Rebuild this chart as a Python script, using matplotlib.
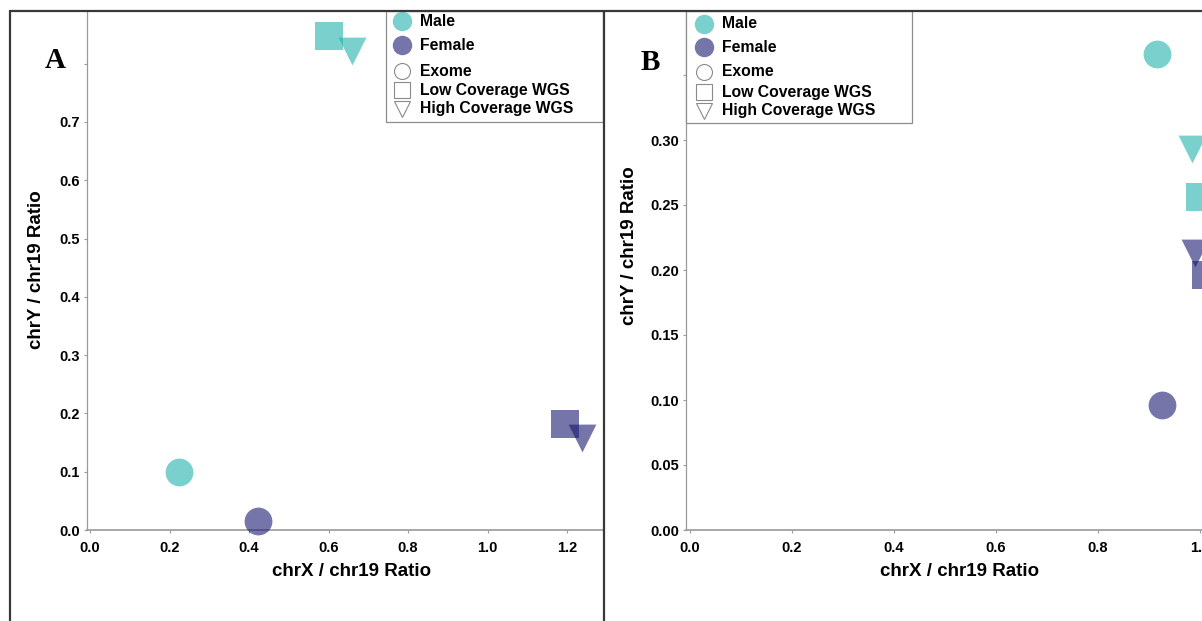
import matplotlib
matplotlib.use("Agg")
import matplotlib.pyplot as plt
from matplotlib.lines import Line2D
from matplotlib.patches import Rectangle

plt.rcParams['font.family'] = ['Liberation Sans', 'DejaVu Sans']
plt.rcParams['font.weight'] = 'bold'

# ---- data -------------------------------------------------------------
# Panel A
a_exome_x = [0.224, 0.423]          # male, female
a_exome_y = [0.099, 0.015]
a_lowwgs_x = [0.601, 1.195]
a_lowwgs_y = [0.848, 0.181]
a_highwgs_x = [0.660, 1.237]
a_highwgs_y = [0.822, 0.158]

# Panel B
b_exome_x = [0.915, 0.925]
b_exome_y = [0.366, 0.096]
b_lowwgs_x = [1.000, 1.012]
b_lowwgs_y = [0.256, 0.196]
b_highwgs_x = [0.984, 0.990]
b_highwgs_y = [0.293, 0.213]

sex_labels = ["Male", "Female"]
sex_colors = ["#20B2AA", "#191970"]
assay_labels = ["Exome", "Low Coverage WGS", "High Coverage WGS"]
assay_markers = ["o", "s", "v"]

a_xticks = [0.0, 0.2, 0.4, 0.6, 0.8, 1.0, 1.2]
a_yticks = [0.0, 0.1, 0.2, 0.3, 0.4, 0.5, 0.6, 0.7, 0.8]
a_yticklabels = ["0.0", "0.1", "0.2", "0.3", "0.4", "0.5", "0.6", "0.7", ""]
b_xticks = [0.0, 0.2, 0.4, 0.6, 0.8, 1.0]
b_yticks = [0.00, 0.05, 0.10, 0.15, 0.20, 0.25, 0.30, 0.35]
b_yticklabels = ["0.00", "0.05", "0.10", "0.15", "0.20", "0.25", "0.30", ""]

# ---- figure -----------------------------------------------------------
W, H = 1202, 621
fig = plt.figure(figsize=(W / 100, H / 100), dpi=100)
fig.patch.set_facecolor("white")


def fx(px):
    return px / W


def fy(py):
    return 1 - py / H


ALPHA = 0.6
MS = 20
GRAY = "#9a9a9a"


def style_axes(ax, xticks, yticks, yticklabels):
    for s in ["top", "right"]:
        ax.spines[s].set_visible(False)
    ax.spines["left"].set_color(GRAY)
    ax.spines["left"].set_linewidth(0.9)
    ax.spines["bottom"].set_color(GRAY)
    ax.spines["bottom"].set_linewidth(1.2)
    ax.set_xticks(xticks)
    ax.set_xticklabels([f"{t:.1f}" for t in xticks])
    ax.set_yticks(yticks)
    ax.set_yticklabels(yticklabels)
    ax.tick_params(axis="both", length=2, width=0.8, color=GRAY,
                   labelsize=10.5, labelcolor="black")
    ax.tick_params(axis="x", pad=6)
    ax.tick_params(axis="y", pad=3)
    for lab in ax.get_xticklabels() + ax.get_yticklabels():
        lab.set_fontweight("bold")
    ax.patch.set_alpha(0)


def plot_panel(ax, ex_x, ex_y, lo_x, lo_y, hi_x, hi_y):
    for i in range(2):
        ax.scatter([ex_x[i]], [ex_y[i]], s=MS ** 2, marker="o",
                   color=sex_colors[i], alpha=ALPHA, linewidths=0, zorder=3,
                   clip_on=False)
        ax.scatter([lo_x[i]], [lo_y[i]], s=MS ** 2, marker="s",
                   color=sex_colors[i], alpha=ALPHA, linewidths=0, zorder=3,
                   clip_on=False)
        ax.scatter([hi_x[i]], [hi_y[i]], s=MS ** 2, marker="v",
                   color=sex_colors[i], alpha=ALPHA, linewidths=0, zorder=4,
                   clip_on=False)


# Panel A axes
axA = fig.add_axes([fx(87), fy(530), fx(603) - fx(87), fy(11) - fy(530)])
axA.set_xlim((87 - 90) / 397.5, (603 - 90) / 397.5)
axA.set_ylim(0, (530 - 11) / 583.0)
plot_panel(axA, a_exome_x, a_exome_y, a_lowwgs_x, a_lowwgs_y,
           a_highwgs_x, a_highwgs_y)
style_axes(axA, a_xticks, a_yticks, a_yticklabels)

# Panel B axes (runs past the right edge of the canvas)
axB = fig.add_axes([fx(686), fy(530), fx(1262) - fx(686), fy(11) - fy(530)])
axB.set_xlim((686 - 690) / 510.0, (1262 - 690) / 510.0)
axB.set_ylim(0, (530 - 11) / 1300.0)
plot_panel(axB, b_exome_x, b_exome_y, b_lowwgs_x, b_lowwgs_y,
           b_highwgs_x, b_highwgs_y)
style_axes(axB, b_xticks, b_yticks, b_yticklabels)

# Axis titles
LABEL_FS = 13.5
fig.text(fx(352), fy(572), "chrX / chr19 Ratio", ha="center", va="center",
         fontsize=LABEL_FS, fontweight="bold")
fig.text(fx(960), fy(572), "chrX / chr19 Ratio", ha="center", va="center",
         fontsize=LABEL_FS, fontweight="bold")
fig.text(fx(37), fy(270), "chrY / chr19 Ratio", ha="center", va="center",
         rotation=90, fontsize=LABEL_FS, fontweight="bold")
fig.text(fx(630), fy(246), "chrY / chr19 Ratio", ha="center", va="center",
         rotation=90, fontsize=LABEL_FS, fontweight="bold")

# Panel letters
for lx, ly, letter in [(55, 61, "A"), (650, 62, "B")]:
    fig.text(fx(lx), fy(ly), letter, ha="center", va="center", fontsize=21,
             fontweight="bold", family=["Liberation Serif", "DejaVu Serif"])


# Legends
def draw_legend(left, right, top, bottom, mx, tx, rows):
    fig.add_artist(Rectangle((fx(left), fy(bottom)), fx(right) - fx(left),
                             fy(top) - fy(bottom), transform=fig.transFigure,
                             facecolor="white", edgecolor="#8c8c8c",
                             linewidth=0.9, zorder=5))
    for i, lab in enumerate(sex_labels):
        fig.add_artist(Line2D([fx(mx)], [fy(rows[i])], marker="o",
                              markersize=14, color=sex_colors[i],
                              alpha=ALPHA, markeredgewidth=0,
                              linestyle="none", transform=fig.transFigure,
                              zorder=6))
        fig.text(fx(tx), fy(rows[i]), lab, ha="left", va="center",
                 fontsize=11.3, fontweight="bold", zorder=6)
    for j, lab in enumerate(assay_labels):
        y = rows[2 + j]
        fig.add_artist(Line2D([fx(mx)], [fy(y)], marker=assay_markers[j],
                              markersize=11.5, markerfacecolor="white",
                              markeredgecolor="#8a8a8a", markeredgewidth=0.8,
                              linestyle="none", transform=fig.transFigure,
                              zorder=6))
        fig.text(fx(tx), fy(y), lab, ha="left", va="center",
                 fontsize=11.3, fontweight="bold", zorder=6)


draw_legend(386, 603, 11, 122, 402, 420, [21, 45, 71, 90, 109])
draw_legend(686, 912, 11, 123, 704, 722, [24, 47, 72, 92, 111])

# Outer panel frames
frame_kw = dict(transform=fig.transFigure, color="#383838", linewidth=1.6,
                zorder=10, solid_capstyle="butt")
fig.add_artist(Line2D([fx(9), fx(1202)], [fy(10.5), fy(10.5)], **frame_kw))
fig.add_artist(Line2D([fx(9.5), fx(9.5)], [fy(10), fy(621)], **frame_kw))
fig.add_artist(Line2D([fx(603.5), fx(603.5)], [fy(10), fy(621)], **frame_kw))

fig.savefig("out.png", dpi=100)
